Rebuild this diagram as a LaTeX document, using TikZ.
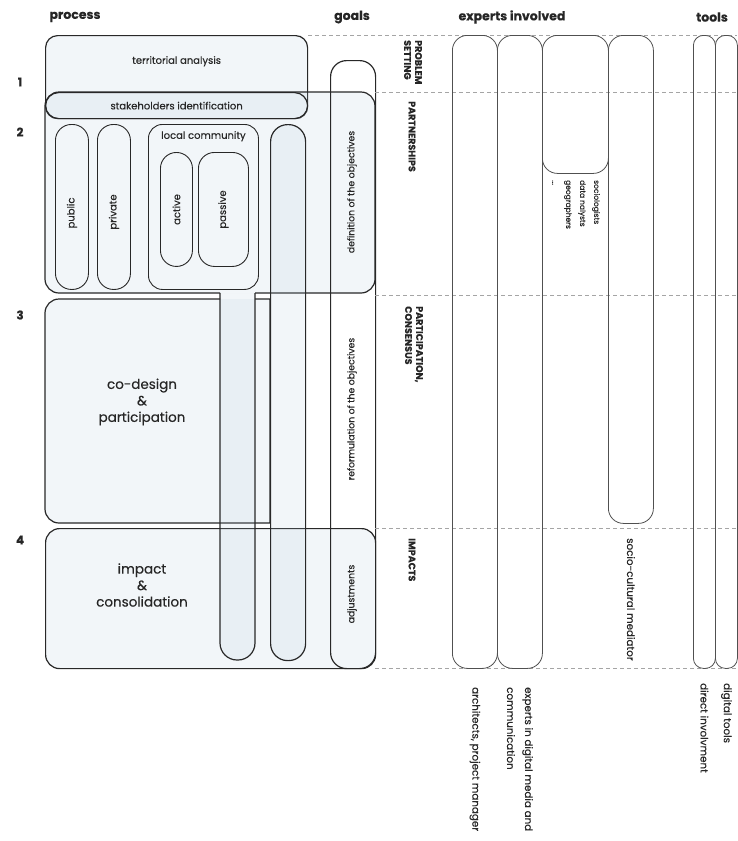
\documentclass[tikz,border=0pt]{standalone}
\usepackage{fontspec}
\setmainfont{Poppins}[FakeBold=0.35]
\usetikzlibrary{positioning}
\definecolor{linec}{RGB}{40,40,40}
\definecolor{colc}{RGB}{80,80,80}
\definecolor{paleblue}{RGB}{170,195,215}
\definecolor{guidec}{RGB}{165,165,165}

\begin{document}
\begin{tikzpicture}[
		x=1pt, y=-1pt,
		every node/.style={inner sep=0pt, text=black!85},
		box/.style={draw=linec, line width=1.2pt, rectangle, anchor=north west},
		pale/.style={fill=paleblue, fill opacity=0.15},
		col/.style={draw=colc, line width=0.8pt, rectangle, anchor=north west, rounded corners=15pt},
		thin col/.style={col, rounded corners=10pt},
		guide/.style={draw=guidec, dashed, line width=0.6pt, dash pattern=on 4pt off 3pt},
		head/.style={font=\bfseries\fontsize{12.5}{14}\selectfont},
		num/.style={font=\bfseries\fontsize{12}{14}\selectfont},
		lbl/.style={font=\fontsize{10}{12}\selectfont},
		big/.style={font=\fontsize{13.5}{16.5}\selectfont, align=center},
		sect/.style={font=\bfseries\fontsize{9.5}{11}\selectfont, align=left, rotate=-90, anchor=west},
		side/.style={font=\fontsize{10.3}{18}\selectfont, align=left, rotate=-90, anchor=west}
		]
		
		\useasboundingbox (0,0) rectangle (737,841);
		
		% Headings
		\node[head] (hproc) at (75,17) {process};
		\node[head] (hgoals) at (352,17) {goals};
		\node[head] (hexp) at (512,17) {experts involved};
		\node[head] (htools) at (712,17) {tools};
		
		% Phase numbers
		\node[num] (n1) at (20,82) {1};
		\node[num] (n2) at (20,132) {2};
		\node[num] (n3) at (20,315) {3};
		\node[num] (n4) at (20,540) {4};
		
		% Territorial analysis
		\node[
		box,
		pale,
		rounded corners=12pt,
		minimum width=262pt,
		minimum height=83pt
		] (terr) at (45,35) {};
		\node[lbl, below=21pt of terr.north] (terrtxt) {territorial analysis};
		
		% Partnerships
		\path[draw=linec, line width=1.2pt, pale, rounded corners=14pt]
		(220,293) -- (45,293) -- (45,92) -- (375,92) -- (375,293) -- (255,293);
		
		% Stakeholders identification
		\node[
		box,
		rounded corners=13pt,
		minimum width=262pt,
		minimum height=26pt
		] (stake) at (45,92) {};
		\node[lbl] (staketxt) at (stake.center) {stakeholders identification};
		
		% Public / private
		\node[box, line width=0.9pt, rounded corners=16pt, minimum width=33pt, minimum height=165pt] (public) at (55,124) {};
		\node[lbl, rotate=90] (publictxt) at ([yshift=-6pt]public.center) {public};
		\node[box, line width=0.9pt, rounded corners=16pt, minimum width=33pt, minimum height=165pt] (private) at (97,124) {};
		\node[lbl, rotate=90] (privatetxt) at ([yshift=-5pt]private.center) {private};
		
		% Local community
		\node[box, line width=0.9pt, rounded corners=14pt, minimum width=110pt, minimum height=165pt] (community) at (148,124) {};
		\node[lbl, below=7pt of community.north] (communitytxt) {local community};
		\node[box, line width=0.9pt, rounded corners=16pt, minimum width=32pt, minimum height=114pt] (active) at (160,152) {};
		\node[lbl, rotate=90] (activetxt) at (active.center) {active};
		\node[box, line width=0.9pt, rounded corners=16pt, minimum width=50pt, minimum height=114pt] (passive) at (198,152) {};
		\node[lbl, rotate=90] (passivetxt) at (passive.center) {passive};
		
		% Co-design & participation
		\path[draw=linec, line width=1.2pt, pale]
		(220,299) [rounded corners=14pt] -- (45,299) -- (45,523) [sharp corners] -- (270,523) -- (270,299) -- (255,299);
		\node[big] (codesign) at (142,402) {co-design\\\&\\participation};
		
		% Impact & consolidation
		\node[
		box,
		pale,
		rounded corners=14pt,
		minimum width=330pt,
		minimum height=140pt
		] (impact) at (45,528) {};
		\node[big] (impacttxt) at (142,585) {impact\\\&\\consolidation};
		
		% Long pills
		\path[draw=linec, line width=1.2pt, pale, rounded corners=17pt]
		(220,293) -- (220,660) -- (255,660) -- (255,293);
		\node[box, pale, rounded corners=17pt, minimum width=35pt, minimum height=536pt] (pillb) at (270,124) {};
		
		% Goals
		\node[box, rounded corners=16pt, minimum width=45pt, minimum height=608pt] (goals) at (330,60) {};
		\node[lbl, font=\fontsize{9.3}{11}\selectfont, rotate=90] (defin) at (352,192) {definition of the objectives};
		\node[lbl, font=\fontsize{9.3}{11}\selectfont, rotate=90] (reform) at (352,409) {reformulation of the objectives};
		\node[lbl, font=\fontsize{9.3}{11}\selectfont, rotate=90] (adjust) at (352,594) {adjustments};
		
		% Phase separators
		\draw[guide] (terr.north east) -- (737,35);
		\foreach \yy in {92,295,528,668}
		\draw[guide] (375,\yy) -- (737,\yy);
		
		% Phase names
		\node[sect] (ph1) at (413,40) {PROBLEM\\SETTING};
		\node[sect] (ph2) at (412,101) {PARTNERSHIPS};
		\node[sect] (ph3) at (414,306) {PARTICIPATION,\\CONSENSUS};
		\node[sect] (ph4) at (412,538) {IMPACTS};
		
		% Experts
		\node[col, minimum width=45pt, minimum height=633pt] (archi) at (452,35) {};
		\node[col, minimum width=45pt, minimum height=633pt] (media) at (497,35) {};
		\node[col, minimum width=66pt, minimum height=138pt] (research) at (542,35) {};
		\node[col, minimum width=45pt, minimum height=488pt] (mediator) at (608,35) {};
		\node[side, font=\fontsize{7.5}{14}\selectfont] (researchtxt) at (576,180) {sociologists\\data nalysts\\geographers\\...};
		\node[side] (architxt) at (archi.south |- 0,687) {architects, project manager};
		\node[side] (mediatxt) at (media.south |- 0,687) {experts in digital media and\\communication};
		\node[side] (mediatortxt) at (mediator.south |- 0,538) {socio-cultural mediator};
		
		% Tools
		\node[thin col, minimum width=22pt, minimum height=633pt] (direct) at (693,35) {};
		\node[thin col, minimum width=22pt, minimum height=633pt] (digital) at (715,35) {};
		\node[side] (directtxt) at (direct.south |- 0,683) {direct involvment};
		\node[side] (digitaltxt) at (digital.south |- 0,683) {digital tools};
		
	\end{tikzpicture}
\end{document}
